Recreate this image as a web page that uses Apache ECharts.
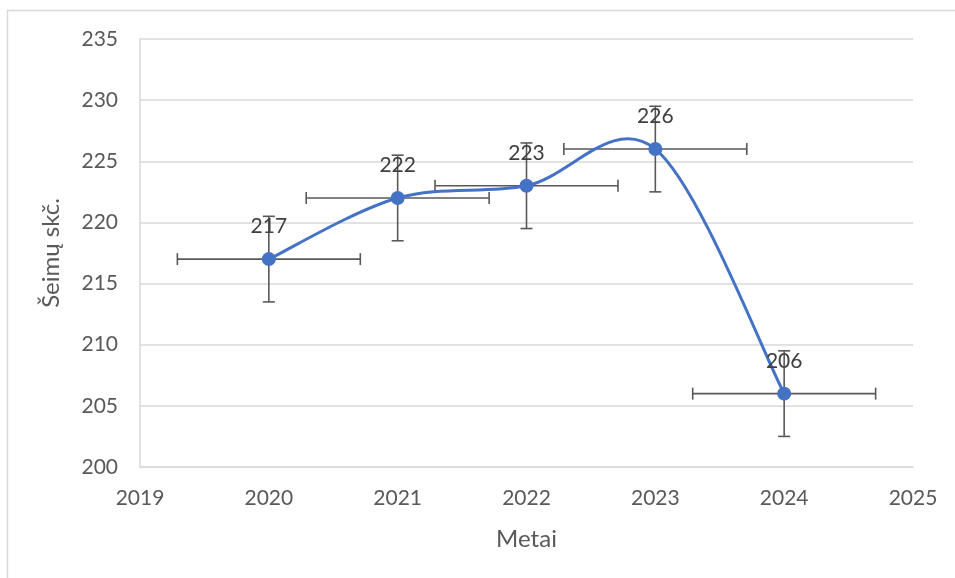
<!DOCTYPE html>
<html><head><meta charset="utf-8">
<script src="https://cdn.jsdelivr.net/npm/echarts@6/dist/echarts.min.js"></script>
<style>html,body{margin:0;padding:0;background:#fff}#c{width:955px;height:578px}</style>
</head><body><div id="c"></div>
<script>
const years = [2020, 2021, 2022, 2023, 2024];
const values = [217, 222, 223, 226, 206];
const yErr = [3.5, 3.5, 3.5, 3.5, 3.5];
const xErr = [0.71, 0.71, 0.71, 0.71, 0.71];
const xAxisRange = [2019, 2025];
const yAxisRange = [200, 235];
const xTitle = 'Metai';
const yTitle = 'Šeimų skč.';

const FONT = 'Lato';
const LINE_COLOR = '#4472C4';
const ERR_COLOR = '#595959';

const chart = echarts.init(document.getElementById('c'), null, {renderer: 'canvas'});

const pts = years.map((y, i) => [y, values[i]]);

function curveRender(params, api) {
  const P = pts.map(p => api.coord(p));
  const n = P.length;
  const children = [];
  for (let i = 0; i < n - 1; i++) {
    const p0 = P[Math.max(i - 1, 0)], p1 = P[i], p2 = P[i + 1], p3 = P[Math.min(i + 2, n - 1)];
    const c1 = [p1[0] + (p2[0] - p0[0]) / 6, p1[1] + (p2[1] - p0[1]) / 6];
    const c2 = [p2[0] - (p3[0] - p1[0]) / 6, p2[1] - (p3[1] - p1[1]) / 6];
    children.push({
      type: 'bezierCurve',
      shape: {x1: p1[0], y1: p1[1], cpx1: c1[0], cpy1: c1[1], cpx2: c2[0], cpy2: c2[1], x2: p2[0], y2: p2[1]},
      style: {stroke: LINE_COLOR, lineWidth: 3, fill: null, lineCap: 'round'}
    });
  }
  return {type: 'group', children};
}

function errRender(params, api) {
  const x = api.value(0), y = api.value(1), ex = api.value(2), ey = api.value(3);
  const c = api.coord([x, y]);
  const l = api.coord([x - ex, y]), r = api.coord([x + ex, y]);
  const t = api.coord([x, y + ey]), b = api.coord([x, y - ey]);
  const cap = 6;
  const st = {stroke: ERR_COLOR, lineWidth: 1.6};
  const line = (x1, y1, x2, y2) => ({type: 'line', shape: {x1, y1, x2, y2}, style: st});
  return {type: 'group', children: [
    line(l[0], c[1], r[0], c[1]),
    line(l[0], c[1] - cap, l[0], c[1] + cap),
    line(r[0], c[1] - cap, r[0], c[1] + cap),
    line(c[0], t[1], c[0], b[1]),
    line(c[0] - cap, t[1], c[0] + cap, t[1]),
    line(c[0] - cap, b[1], c[0] + cap, b[1])
  ]};
}

chart.setOption({
  animation: false,
  backgroundColor: '#fff',
  textStyle: {fontFamily: FONT},
  graphic: [{
    type: 'rect', shape: {x: 7.5, y: 10.5, width: 1000, height: 700},
    style: {fill: null, stroke: '#d9d9d9', lineWidth: 1.5}, silent: true, z: -10
  }],
  grid: {left: 140, right: 42, top: 39, bottom: 111},
  xAxis: {
    type: 'value', min: xAxisRange[0], max: xAxisRange[1], interval: 1,
    name: xTitle, nameLocation: 'middle', nameGap: 60,
    nameTextStyle: {fontFamily: FONT, fontSize: 24, color: '#595959'},
    axisLine: {show: true, lineStyle: {color: '#d9d9d9', width: 1.5}},
    axisTick: {show: false},
    splitLine: {show: false},
    axisLabel: {fontFamily: FONT, fontSize: 21, color: '#595959', margin: 21, formatter: v => String(v)}
  },
  yAxis: {
    type: 'value', min: yAxisRange[0], max: yAxisRange[1], interval: 5,
    name: yTitle, nameLocation: 'middle', nameGap: 77, nameRotate: 90,
    nameTextStyle: {fontFamily: FONT, fontSize: 24, color: '#595959'},
    axisLine: {show: true, lineStyle: {color: '#d9d9d9', width: 1.5}},
    axisTick: {show: false},
    splitLine: {show: true, lineStyle: {color: '#d9d9d9', width: 1.5}},
    axisLabel: {fontFamily: FONT, fontSize: 21, color: '#595959', margin: 22, formatter: v => String(v)}
  },
  series: [
    {
      type: 'custom', name: 'err', renderItem: errRender, z: 2,
      data: years.map((y, i) => [y, values[i], xErr[i], yErr[i]]),
      encode: {x: 0, y: 1}
    },
    {
      type: 'custom', name: 'curve', renderItem: curveRender, z: 3,
      data: [pts[0]], encode: {x: 0, y: 1}
    },
    {
      type: 'scatter', name: 'pts', z: 4,
      data: pts, symbol: 'circle', symbolSize: 14,
      itemStyle: {color: LINE_COLOR, opacity: 1},
      label: {show: true, position: 'top', distance: 15, fontFamily: FONT, fontSize: 21, color: '#404040',
        formatter: p => String(p.value[1])}
    }
  ]
});
</script></body></html>
